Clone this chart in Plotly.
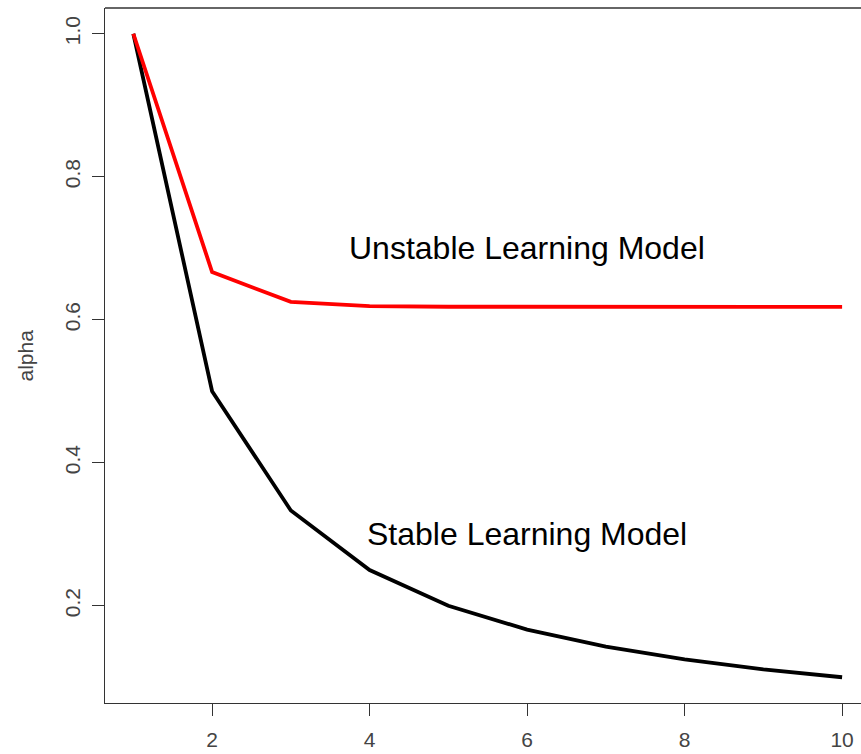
import plotly.graph_objects as go

n_values = [1, 2, 3, 4, 5, 6, 7, 8, 9, 10]
stable_alpha = [1.0, 0.5, 0.3333, 0.25, 0.2, 0.1667, 0.1429, 0.125, 0.1111, 0.1]
unstable_alpha = [1.0, 0.6667, 0.625, 0.6190, 0.6182, 0.6181, 0.6180, 0.6180, 0.6180, 0.6180]
x_ticks = [2, 4, 6, 8, 10]
y_ticks = [0.2, 0.4, 0.6, 0.8, 1.0]
y_tick_text = ["0.2", "0.4", "0.6", "0.8", "1.0"]

FONT = "Liberation Sans, Arial, sans-serif"

fig = go.Figure()
fig.add_trace(go.Scatter(x=n_values, y=stable_alpha, mode="lines",
                         line=dict(color="black", width=3.8), showlegend=False))
fig.add_trace(go.Scatter(x=n_values, y=unstable_alpha, mode="lines",
                         line=dict(color="#ff0000", width=3.8), showlegend=False))

fig.add_annotation(x=6, y=0.7, text="Unstable Learning Model", showarrow=False,
                   font=dict(family=FONT, size=32, color="black"), xanchor="center", yanchor="middle")
fig.add_annotation(x=6, y=0.3, text="Stable Learning Model", showarrow=False,
                   font=dict(family=FONT, size=32, color="black"), xanchor="center", yanchor="middle")
fig.add_annotation(xref="paper", yref="paper", x=-80/756, y=0.5, text="alpha", showarrow=False,
                   textangle=-90, font=dict(family=FONT, size=21, color="#444"),
                   xanchor="center", yanchor="middle")

fig.add_shape(type="line", xref="paper", yref="paper", x0=0, x1=1, y0=1, y1=1,
              line=dict(color="#333", width=1.3))

fig.update_layout(
    width=861, height=754,
    margin=dict(l=105, r=0, t=8, b=51),
    plot_bgcolor="white", paper_bgcolor="white",
    font=dict(family=FONT),
)
fig.update_xaxes(range=[0.64, 0.64 + 756/78.75], tickvals=x_ticks, ticks="outside", ticklen=12,
                 tickwidth=1.3, tickcolor="#333", showline=True, linecolor="#333", linewidth=1.3,
                 showgrid=False, zeroline=False, tickfont=dict(family=FONT, size=21, color="#444"),
                 ticklabelstandoff=6)
fig.update_yaxes(range=[0.064, 1.036], tickvals=y_ticks, ticktext=y_tick_text, ticks="outside",
                 ticklen=12, tickwidth=1.3, tickcolor="#333", showline=True, linecolor="#333",
                 linewidth=1.3, showgrid=False, zeroline=False, tickangle=-90,
                 tickfont=dict(family=FONT, size=21, color="#444"), ticklabelstandoff=3)

fig.write_html("out.html", config={"displayModeBar": False},
               post_script="document.body.style.margin='0';document.body.style.overflow='hidden';")
